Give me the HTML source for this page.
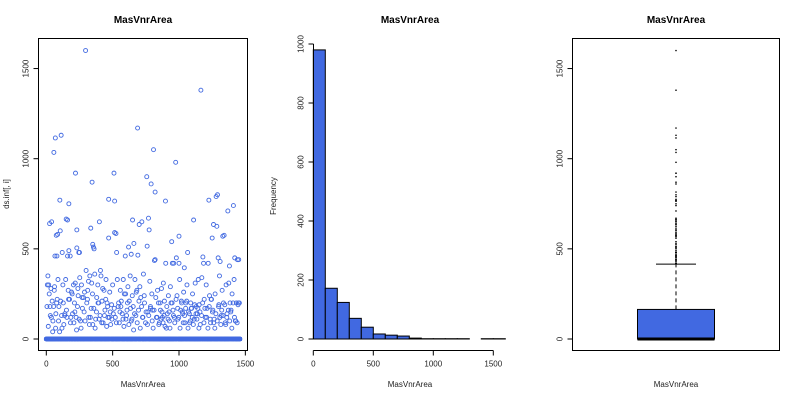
<!DOCTYPE html>
<html><head><meta charset="utf-8">
<style>
html,body{margin:0;padding:0;background:#fff;}
svg{display:block;font-family:"Liberation Sans",sans-serif;}
</style></head>
<body>
<svg id="c" width="800" height="400" viewBox="0 0 800 400"></svg>
<script>
// ---- scatter data (index, value) ----
const pointIndex = [296,1165,688,112,68,57,808,975,220,510,345,757,790,820,1290,1280,102,470,515,898,1225,170,1410,1368,25,40,150,160,400,650,700,720,770,1110,1260,1285,335,230,105,775,515,525,75,85,1000,1250,1330,1340,470,945,660,350,355,360,230,245,250,530,170,620,760,1065,65,80,120,160,180,595,640,690,815,820,900,950,960,980,1000,1040,1180,1185,1220,1295,1310,1380,1420,1440,1450,
5,12,18,22,30,35,44,50,55,62,70,78,88,95,100,108,115,125,132,140,146,155,165,175,182,190,198,205,212,218,225,235,240,252,258,265,272,280,288,300,305,312,320,328,338,342,350,365,372,380,388,395,405,412,420,428,435,442,450,458,465,478,485,492,500,505,520,535,542,550,558,565,572,580,588,600,608,615,625,632,640,648,655,668,675,682,695,705,712,725,732,740,748,765,780,785,795,800,830,838,845,852,860,868,875,882,890,905,912,920,928,935,940,955,965,985,992,1005,1012,1020,1028,1035,1045,1052,1060,1072,1080,1088,1095,1102,1115,1122,1130,1138,1145,1152,1160,1172,1190,1198,1205,1212,1230,1238,1245,1255,1265,1272,1300,1305,1318,1325,1335,1348,1355,1362,1375,1385,1392,1400,1415,1425,1432,1445,1455,
8,15,28,38,48,60,72,82,92,118,128,138,152,168,185,195,208,215,228,238,248,262,270,285,292,310,318,325,332,348,358,368,378,390,398,408,418,425,438,448,455,462,475,482,495,512,528,545,555,562,578,585,598,605,612,622,635,645,658,665,678,685,698,708,718,728,738,752,762,772,785,798,805,812,825,835,848,858,865,872,880,888,895,908,918,925,932,948,958,968,978,990,998,1008,1018,1025,1032,1042,1050,1058,1068,1078,1085,1092,1100,1108,1118,1128,1135,1142,1150,1158,1170,1178,1188,1195,1208,1218,1228,1235,1242,1252,1262,1270,1278,1288,1298,1308,1315,1322,1332,1345,1352,1360,1372,1382,1390,1398,1408,1418,1428,1438,1448,1458];
const pointValue = [1600,1380,1170,1130,1115,1035,1050,980,920,920,870,900,860,815,800,790,770,775,765,765,770,750,740,710,640,650,665,660,650,660,635,650,670,660,635,625,615,605,600,605,590,585,575,580,570,560,570,575,560,540,530,525,510,500,505,480,480,480,490,510,515,480,460,460,480,460,460,460,470,465,435,440,420,420,420,450,420,395,455,420,420,450,430,405,450,440,440,
180,350,300,250,130,280,210,100,180,290,60,200,330,180,40,210,130,300,80,140,330,120,270,220,90,260,140,300,200,310,120,180,240,340,100,300,170,230,260,380,200,270,120,350,170,310,80,360,110,230,300,200,130,350,210,90,270,160,330,200,120,260,80,190,300,140,120,330,180,90,270,210,140,330,250,110,160,290,210,350,100,240,180,330,130,270,160,290,230,120,360,200,90,150,320,180,250,160,120,270,200,90,160,280,120,310,210,60,140,240,100,290,200,160,120,240,110,330,160,200,140,260,90,200,300,150,90,200,170,250,110,310,180,140,330,190,80,340,220,120,300,170,240,90,220,160,110,250,190,350,130,270,200,90,300,140,310,200,160,250,330,100,200,190,
200,300,70,180,120,40,270,140,220,100,60,200,130,160,220,120,250,90,150,50,280,110,60,230,150,100,220,320,80,120,250,170,60,150,200,110,380,90,280,130,220,70,180,120,150,110,170,90,200,150,180,110,70,250,130,200,80,170,110,50,140,260,90,210,60,180,120,240,150,80,130,170,100,60,160,230,120,80,200,110,150,90,130,70,180,110,150,60,200,130,90,220,170,120,60,210,150,90,130,170,210,60,140,100,170,120,80,190,140,110,170,60,150,130,200,90,170,120,60,180,110,220,150,90,60,140,100,180,120,80,160,130,190,80,120,160,100,150,60,200,120,100,90,200];
// zero values index positions
const zeroIndex = [0,6,10,14,20,26,32,36,42,46,52,58,64,70,76,84,90,96,104,110,116,122,130,136,144,148,156,162,172,178,188,194,200,210,216,222,232,236,244,254,260,268,276,282,290,298,306,314,322,330,336,344,352,362,370,376,384,392,402,410,416,422,432,440,446,452,460,468,476,488,496,502,508,518,526,532,540,548,556,568,576,584,592,602,610,618,628,636,644,652,662,672,680,692,702,710,722,730,736,746,754,766,776,782,792,802,810,818,826,834,842,850,856,864,870,878,886,894,902,910,916,924,930,938,946,954,962,972,982,994,1002,1010,1016,1022,1030,1038,1048,1056,1064,1074,1082,1090,1098,1106,1114,1120,1126,1134,1140,1148,1156,1164,1174,1182,1192,1200,1210,1216,1224,1232,1240,1248,1258,1268,1276,1284,1292,1302,1312,1320,1328,1338,1344,1350,1358,1366,1374,1384,1394,1404,1412,1422,1430,1436,1444,1452,1459];
// ---- histogram data ----
const binEdges = [0,100,200,300,400,500,600,700,800,900,1000,1100,1200,1300,1400,1500,1600];
const binCounts = [980,172,124,70,40,17,13,10,3,1,1,1,1,0,1,1];
// ---- boxplot stats ----
const boxStats = [0,0,0,164,415]; // min, q1, median, q3, upper whisker
const boxOutlierMin = 415;
// ---- ticks ----
const scatterXTicks = [0,500,1000,1500];
const valueTicks = [0,500,1000,1500];
const histXTicks = [0,500,1000,1500];
const histYTicks = [0,200,400,600,800,1000];

const svg = document.getElementById('c');
const NS = 'http://www.w3.org/2000/svg';
function mk(tag, attrs, parent){const e=document.createElementNS(NS,tag);for(const k in attrs)e.setAttribute(k,attrs[k]);(parent||svg).appendChild(e);return e;}
const BLUE='#4169E1', TXT='#222';

const sx = v => 46.3 + v*0.1327;
const sy = v => 339 - v*0.1803;
const hx = v => 313.3 + v*0.12;
const hy = v => 339 - v*0.295;
const nPts = Math.min(pointIndex.length, pointValue.length);

function title(x,t){const e=mk('text',{x:x,y:23,'text-anchor':'middle','font-size':'10','font-weight':'bold',fill:'#000'});e.textContent=t;}
function label(x,y,t,rot,name){const e=mk('text',{x:x,y:y,'text-anchor':'middle','font-size':'8',fill:TXT});if(rot)e.setAttribute('transform','rotate(-90 '+x+' '+y+')');e.textContent=t;}
function yaxis(x,ticks,f,name){const g=mk('g',{});
 mk('line',{x1:x,x2:x,y1:f(ticks[0]),y2:f(ticks[ticks.length-1]),stroke:'#000','stroke-width':1},g);
 ticks.forEach(t=>{mk('line',{x1:x-5,x2:x,y1:f(t),y2:f(t),stroke:'#000'},g);const e=mk('text',{x:x-10,y:f(t),'text-anchor':'middle','font-size':'8',fill:TXT,transform:'rotate(-90 '+(x-10)+' '+f(t)+')'},g);e.textContent=t;});}
function xaxis(y,ticks,f,name){const g=mk('g',{});
 mk('line',{x1:f(ticks[0]),x2:f(ticks[ticks.length-1]),y1:y,y2:y,stroke:'#000'},g);
 ticks.forEach(t=>{mk('line',{x1:f(t),x2:f(t),y1:y,y2:y+5,stroke:'#000'},g);const e=mk('text',{x:f(t),y:y+16,'text-anchor':'middle','font-size':'8',fill:TXT},g);e.textContent=t;});}

// ===== Panel 1: scatter =====
title(143,'MasVnrArea');
const b1=mk('rect',{x:38.5,y:38.5,width:209,height:312,fill:'none',stroke:'#000'});

const gp=mk('g',{fill:'none',stroke:BLUE,'stroke-width':'0.9'});

zeroIndex.forEach(i=>{const c=mk('circle',{cx:sx(i),cy:sy(0),r:2},gp);});
mk('rect',{x:sx(0)-2,y:sy(0)-2,width:sx(1459)-sx(0)+4,height:4,fill:BLUE,stroke:'none'},gp);
for(let k=0;k<nPts;k++){const c=mk('circle',{cx:sx(pointIndex[k]),cy:sy(pointValue[k]),r:2},gp);}
yaxis(38.5,valueTicks,sy,'scatter-y-axis');
xaxis(350.5,scatterXTicks,sx,'scatter-x-axis');
label(143,387,'MasVnrArea',false,'scatter-x-title');
label(9,194,'ds.inf[, i]',true,'scatter-y-title');

// ===== Panel 2: histogram =====
title(410,'MasVnrArea');
const gh=mk('g',{});
binCounts.forEach((c,k)=>{const x0=hx(binEdges[k]),x1=hx(binEdges[k+1]);const r=mk('rect',{x:x0,y:hy(c),width:x1-x0,height:hy(0)-hy(c),fill:BLUE,stroke:'#000','stroke-width':1},gh);});
yaxis(313.5,histYTicks,hy,'histogram-y-axis');
xaxis(350.5,histXTicks,hx,'histogram-x-axis');
label(410,387,'MasVnrArea',false,'histogram-x-title');
label(276,196,'Frequency',true,'histogram-y-title');

// ===== Panel 3: boxplot =====
title(676,'MasVnrArea');
const b3=mk('rect',{x:572.5,y:38.5,width:207,height:312,fill:'none',stroke:'#000'});

const gb=mk('g',{});
const bxL=637.5,bxR=714.5,bxC=676;
mk('line',{x1:bxC,x2:bxC,y1:sy(boxStats[3]),y2:sy(boxStats[4]),stroke:'#000','stroke-dasharray':'4,3'},gb);
mk('line',{x1:656,x2:696,y1:sy(boxStats[4]),y2:sy(boxStats[4]),stroke:'#000'},gb);
const br=mk('rect',{x:bxL,y:sy(boxStats[3]),width:bxR-bxL,height:sy(boxStats[1])-sy(boxStats[3]),fill:BLUE,stroke:'#000'},gb);

mk('line',{x1:bxL,x2:bxR,y1:sy(boxStats[2]),y2:sy(boxStats[2]),stroke:'#000','stroke-width':3},gb);
for(let k=0;k<nPts;k++){const v=pointValue[k];if(v>boxOutlierMin){const c=mk('circle',{cx:bxC,cy:sy(v),r:0.8,fill:'#000'},gb);}}
yaxis(572.5,valueTicks,sy,'boxplot-y-axis');
label(676,387,'MasVnrArea',false,'boxplot-x-title');
</script>
</body></html>
